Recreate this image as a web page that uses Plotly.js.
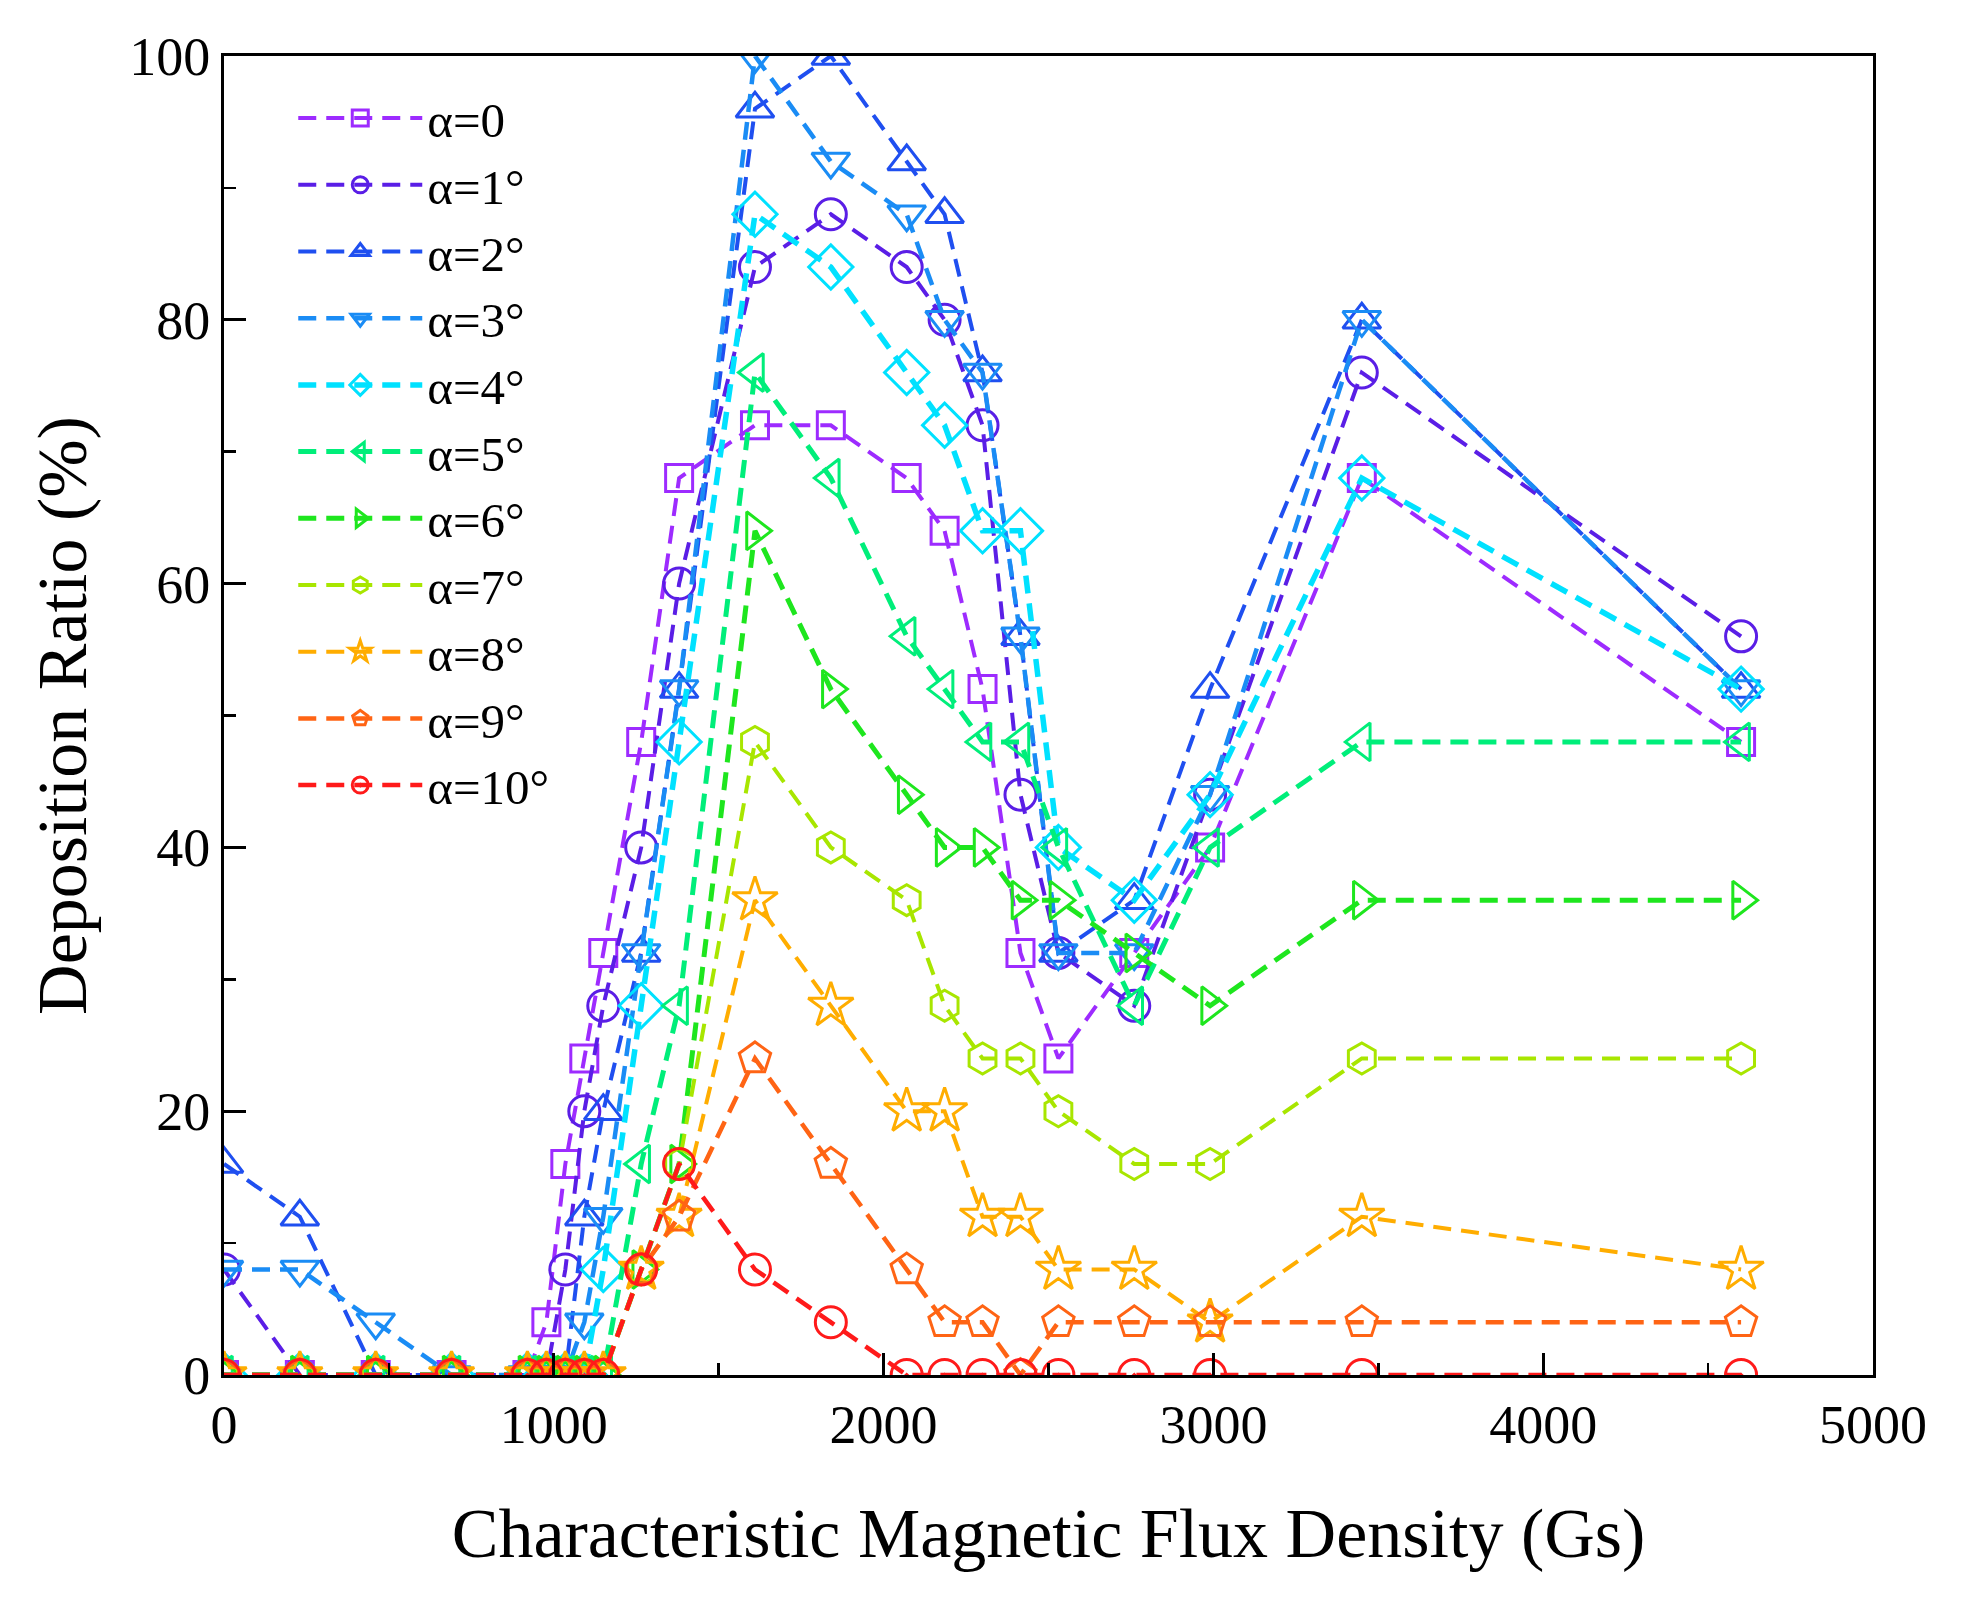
<!DOCTYPE html>
<html>
<head>
<meta charset="utf-8">
<script src="https://cdn.plot.ly/plotly-3.0.1.min.js"></script>
<style>html,body{margin:0;padding:0;background:#fff;}#chart{width:1972px;height:1600px;}</style>
</head>
<body>
<div id="chart"></div>
<script>
const flux = [0,230,460,690,920,977.5,1035,1092.5,1150,1265,1380,1610,1840,2070,2185,2300,2415,2530,2760,2990,3450,4600];
const a0  = [0,0,0,0,0,4,16,24,32,48,68,72,72,68,64,52,32,24,32,40,68,48];
const a1  = [8,0,0,0,0,0,8,20,28,40,60,84,88,84,80,72,44,32,28,44,76,56];
const a2  = [16,12,0,0,0,0,0,12,20,32,52,96,100,92,88,76,56,32,36,52,80,52];
const a3  = [8,8,4,0,0,0,0,4,12,32,52,100,92,88,80,76,56,32,32,44,80,52];
const a4  = [0,0,0,0,0,0,0,0,8,28,48,88,84,76,72,64,64,40,36,44,68,52];
const a5  = [0,0,0,0,0,0,0,0,0,16,28,76,68,56,52,48,48,40,28,40,48,48];
const a6  = [0,0,0,0,0,0,0,0,0,8,16,64,52,44,40,40,36,36,32,28,36,36];
const a7  = [0,0,0,0,0,0,0,0,0,8,16,48,40,36,28,24,24,20,16,16,24,24];
const a8  = [0,0,0,0,0,0,0,0,0,8,12,36,28,20,20,12,12,8,8,4,12,8];
const a9  = [0,0,0,0,0,0,0,0,0,8,12,24,16,8,4,4,0,4,4,4,4,4];
const a10 = [0,0,0,0,0,0,0,0,0,8,16,8,4,0,0,0,0,0,0,0,0,0];

const seriesNames = ['α=0','α=1°','α=2°','α=3°','α=4°','α=5°','α=6°','α=7°','α=8°','α=9°','α=10°'];
const seriesValues = [a0,a1,a2,a3,a4,a5,a6,a7,a8,a9,a10];
const colors = ['#9d2bff','#5a1ee6','#1f4ff0','#1a8cf5','#00e1ff','#00ee7a','#1ee61e','#a8e600','#ffad00','#ff6414','#ff1a1a'];
const symbols = ['square-open','circle-open','triangle-up-open','triangle-down-open','diamond-open','triangle-left-open','triangle-right-open','hexagon-open','star-open','pentagon-open','circle-open-dot'];
const sizes = [27,31,33,33,34,33,33,31,34,33,31];
const widths = [4,4,4,4.5,5.5,5,5,4,4,4.5,4.5];

const traces = seriesValues.map((vals,i)=>({
  x: flux, y: vals, name: seriesNames[i], type:'scatter', mode:'lines+markers',
  line:{color:colors[i], width:widths[i], dash:'18px,10px'},
  marker:{symbol:symbols[i], size:sizes[i], color:colors[i], line:{color:colors[i], width:3}}
}));

const serif = 'Liberation Serif, Times New Roman, serif';
const layout = {
  width:1972, height:1600,
  margin:{l:224, r:99, t:56, b:225},
  paper_bgcolor:'#fff', plot_bgcolor:'#fff',
  font:{family:serif, color:'#000'},
  showlegend:true,
  legend:{x:0.042, y:0.982, xanchor:'left', yanchor:'top', bgcolor:'rgba(0,0,0,0)', font:{family:serif, size:49, color:'#000'}, itemwidth:124, itemsizing:'trace'},
  xaxis:{
    range:[0,5000], dtick:1000, tick0:0, showgrid:false, zeroline:false,
    showline:true, linecolor:'#000', linewidth:3, mirror:true,
    ticks:'inside', ticklen:22, tickwidth:3, tickcolor:'#000',
    minor:{dtick:500, ticks:'inside', ticklen:12, tickwidth:2.5, tickcolor:'#000'},
    tickfont:{family:serif, size:54, color:'#000'},
    title:{text:'Characteristic Magnetic Flux Density (Gs)', font:{family:serif, size:70, color:'#000'}, standoff:55}
  },
  yaxis:{
    range:[0,100], dtick:20, tick0:0, showgrid:false, zeroline:false,
    showline:true, linecolor:'#000', linewidth:3, mirror:true,
    ticks:'inside', ticklen:22, tickwidth:3, tickcolor:'#000',
    minor:{dtick:10, ticks:'inside', ticklen:12, tickwidth:2.5, tickcolor:'#000'},
    tickfont:{family:serif, size:54, color:'#000'},
    title:{text:'Deposition Ratio (%)', font:{family:serif, size:70, color:'#000'}, standoff:20}
  }
};
Plotly.newPlot('chart', traces, layout, {displayModeBar:false, staticPlot:true});
</script>
</body>
</html>
